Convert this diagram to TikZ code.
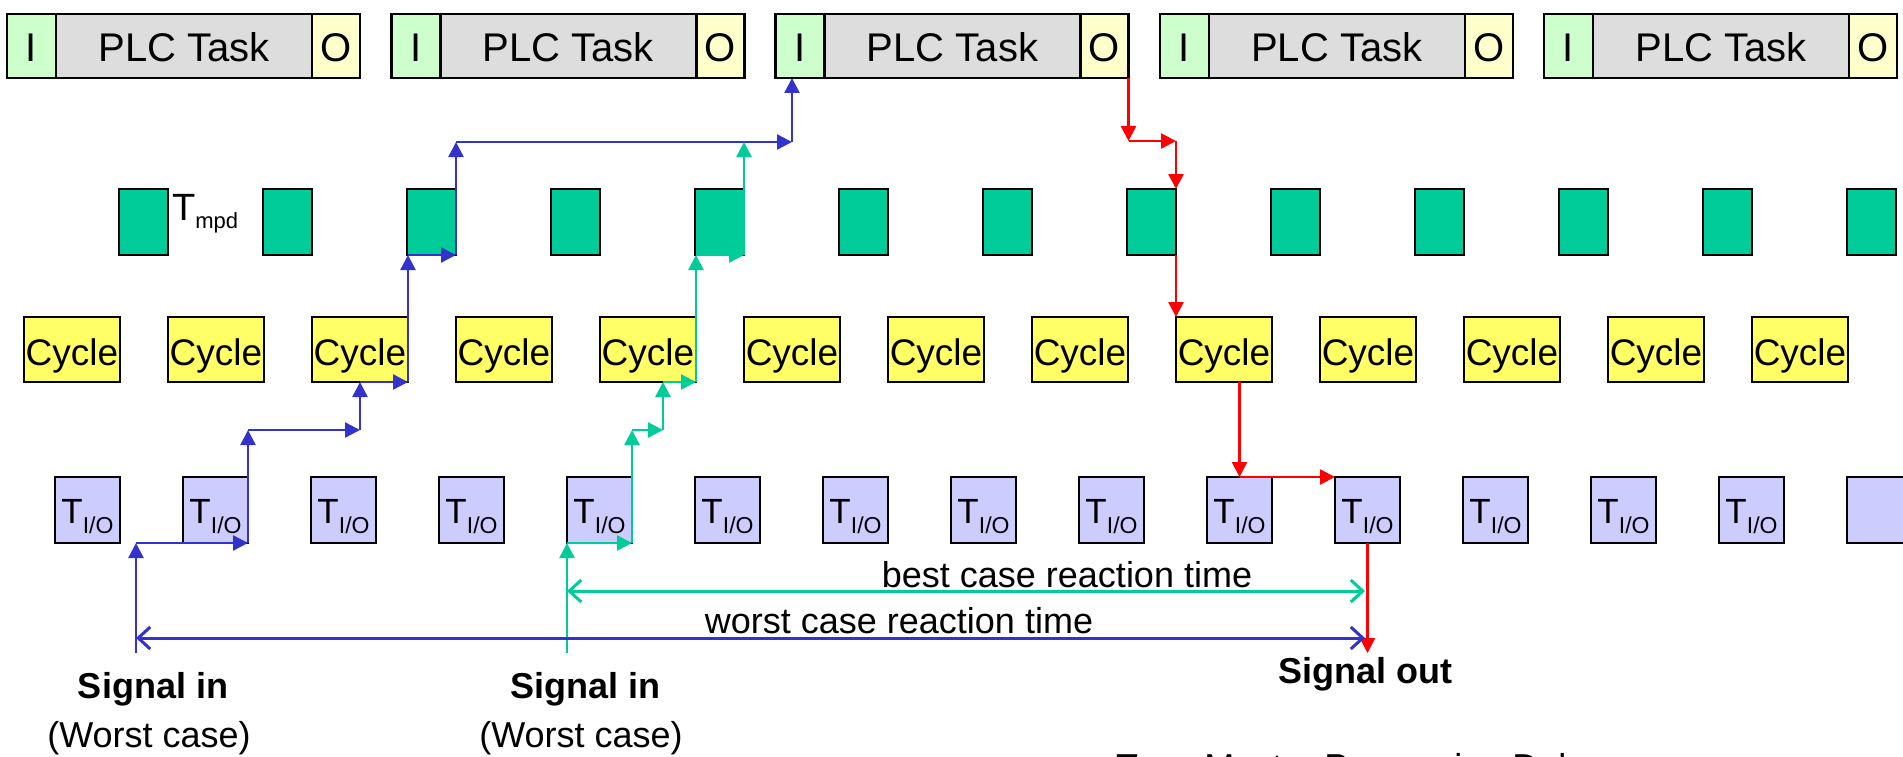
\documentclass[tikz,border=0pt]{standalone}
\usepackage{fontspec}
\setmainfont{Liberation Sans}
\usetikzlibrary{arrows.meta,calc}
\definecolor{cIn}{HTML}{CCFFCC}
\definecolor{cTask}{HTML}{DDDDDD}
\definecolor{cOut}{HTML}{FFFFCC}
\definecolor{cMpd}{HTML}{00CC99}
\definecolor{cCyc}{HTML}{FFFF66}
\definecolor{cIO}{HTML}{CCCCFF}
\definecolor{cBlue}{HTML}{3333CC}
\definecolor{cGreen}{HTML}{00CC99}
\definecolor{cRed}{HTML}{FF0000}
\newcommand\iotext{T\raisebox{-10pt}{\fontsize{23}{23}\selectfont I/O}}
\begin{document}
\begin{tikzpicture}[x=1pt,y=-1pt,
  box/.style={draw=black,line width=2.5pt,inner sep=0pt,outer sep=0pt,anchor=north west},
  plcbox/.style={box,minimum height=64pt,text height=32pt,text depth=0pt,font=\fontsize{40}{40}\selectfont},
  mpdbox/.style={box,fill=cMpd,minimum width=49pt,minimum height=66pt},
  cycbox/.style={box,fill=cCyc,minimum width=96pt,minimum height=65pt,text height=31pt,text depth=0pt,font=\fontsize{37}{37}\selectfont},
  iobox/.style={box,fill=cIO,minimum width=65pt,minimum height=66pt,text height=26pt,text depth=0pt,font=\fontsize{35}{35}\selectfont},
  flowline/.style={line width=2.5pt,-{Triangle[length=15pt,width=15pt]}},
  flowB/.style={flowline,draw=cBlue},
  flowG/.style={flowline,draw=cGreen},
  flowR/.style={flowline,draw=cRed},
  dimline/.style={line width=3pt,{Straight Barb[length=12pt,width=22pt]}-{Straight Barb[length=12pt,width=22pt]}},
  lbl/.style={inner sep=0pt,anchor=base,font=\fontsize{36}{36}\selectfont},
  lblb/.style={lbl,font=\fontsize{36}{36}\selectfont\bfseries},
]
\useasboundingbox (0,0) rectangle (1903,757);
\clip (0,0) rectangle (1903,757);

% PLC task row
\foreach \g in {0,...,4}{
  \pgfmathsetmacro{\gx}{7+384.25*\g}
  \node[plcbox,fill=cIn,minimum width=49pt] (gi\g) at (\gx,14) {I};
  \node[plcbox,fill=cTask,minimum width=256pt] (gt\g) at ({\gx+49},14) {PLC Task};
  \node[plcbox,fill=cOut,minimum width=48pt] (go\g) at ({\gx+305},14) {O};
}

% Tmpd row
\foreach \k in {0,...,12}{
  \node[mpdbox] (tm\k) at ({119+144*\k},189) {};
}
\node[inner sep=0pt,anchor=base west,font=\fontsize{38}{38}\selectfont] (tmpdlbl) at (172,220) {T\raisebox{-8pt}{\fontsize{22}{22}\selectfont mpd}};

% Cycle row
\foreach \k in {0,...,12}{
  \node[cycbox] (cy\k) at ({24+144*\k},317) {Cycle};
}

% T_I/O row
\foreach \k in {0,...,13}{
  \node[iobox] (io\k) at ({55+128*\k},477) {\iotext};
}
\node[iobox] (io14) at (1847,477) {};

% coordinates
\coordinate (bS) at (136,653);
\coordinate (bB) at (248,430);
\coordinate (bD) at (792,142);
\coordinate (gS) at (567,653);
\coordinate (gC) at (663,430);
\coordinate (rA) at (1128.5,141);
\coordinate (rS) at (1367.5,653);
\coordinate (dB1) at (136,638);
\coordinate (dB2) at (1365,638);
\coordinate (dG1) at (567,591);
\coordinate (dG2) at (1365,591);

% blue path (worst case)
\draw[flowB] (bS) -- (bS |- io1.south);
\draw[flowB] (bS |- io1.south) -- (io1.south east);
\draw[flowB] (io1.south east) -- (bB);
\draw[flowB] (bB) -- (cy2.south |- bB);
\draw[flowB] (cy2.south |- bB) -- (cy2.south);
\draw[flowB] (cy2.south) -- (cy2.south east);
\draw[flowB] (cy2.south east) -- (cy2.south east |- tm2.south);
\draw[flowB] (cy2.south east |- tm2.south) -- (tm2.south east);
\draw[flowB] (tm2.south east) -- (tm2.south east |- bD);
\draw[flowB] (tm2.south east |- bD) -- (bD);
\draw[flowB] (bD) -- (bD |- gi2.south);

% green path (best case)
\draw[flowG] (gS) -- (io4.south west);
\draw[flowG] (io4.south west) -- (io4.south east);
\draw[flowG] (io4.south east) -- (io4.south east |- bB);
\draw[flowG] (io4.south east |- bB) -- (gC);
\draw[flowG] (gC) -- (gC |- cy4.south);
\draw[flowG] (gC |- cy4.south) -- (cy4.south east);
\draw[flowG] (cy4.south east) -- (cy4.south east |- tm4.south);
\draw[flowG] (cy4.south east |- tm4.south) -- (tm4.south east);
\draw[flowG] (tm4.south east) -- (tm4.south east |- bD);

% red path (output)
\draw[flowR] (go2.south east) -- (rA);
\draw[flowR] (rA) -- (rA -| tm7.east);
\draw[flowR] (rA -| tm7.east) -- (tm7.north east);
\draw[flowR] (tm7.south east) -- (cy8.north west);
\draw[flowR] (io9.north |- cy8.south) -- (io9.north);
\draw[flowR] (io9.north) -- (io10.north west);
\draw[flowR] (io10.south) -- (rS);

% reaction times
\draw[dimline,draw=cGreen] (dG1) -- (dG2);
\draw[dimline,draw=cBlue] (dB1) -- (dB2);
\node[lbl] (bestlbl) at (1067,587) {best case reaction time};
\node[lbl] (worstlbl) at (899,633) {worst case reaction time};

% signal labels
\node[lblb] (sin1) at (153,698) {Signal in};
\node[lbl] (wc1) at (149,747) {(Worst case)};
\node[lblb] (sin2) at (585,698) {Signal in};
\node[lbl] (wc2) at (581,747) {(Worst case)};
\node[lblb] (sout) at (1365,683) {Signal out};

% legend (cut at bottom edge)
\node[inner sep=0pt,anchor=base west,font=\fontsize{36}{36}\selectfont] (legend) at (1116,779) {T\raisebox{-8pt}{\fontsize{22}{22}\selectfont mpd}: Master Processing Delay};
\end{tikzpicture}
\end{document}
